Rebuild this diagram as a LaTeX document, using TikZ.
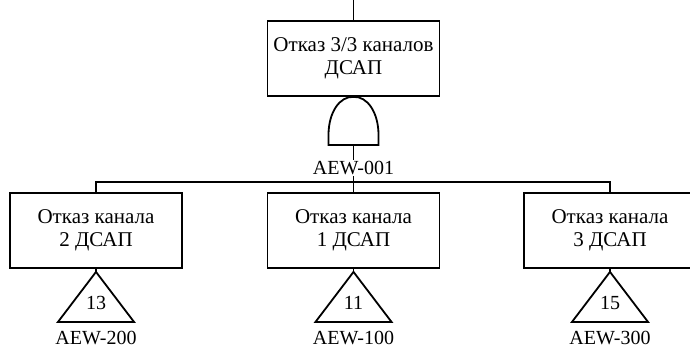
\documentclass[tikz,border=0pt]{standalone}
\usepackage{fontspec}
\setmainfont{Liberation Serif}
\usetikzlibrary{positioning}
\tikzset{
  event/.style={draw,line width=1.8pt,minimum width=172pt,minimum height=75pt,
    align=center,inner sep=0pt,font=\fontsize{21}{23}\selectfont},
  lbl/.style={fill=white,inner sep=1pt,font=\fontsize{20}{22}\selectfont},
  wire/.style={line width=1.8pt}
}
\begin{document}
\begin{tikzpicture}[x=1pt,y=1pt]
\useasboundingbox (0,0) rectangle (690,-349);

% top event
\coordinate (in) at (353.5,0);
\node[event] (top) at (353.5,-58.5) {Отказ 3/3 каналов\\ДСАП};
\draw[wire] (in)--(top);

% AND gate
\draw[wire] (328.5,-145)--(328.5,-135) .. controls (328.5,-112) and (340,-96) .. (top.south)
  .. controls (367,-96) and (378.5,-112) .. (378.5,-135)--(378.5,-145)--cycle;
\coordinate (gout) at (353.5,-145);
\coordinate (bus) at (353.5,-182);

% channels
\node[event] (c2) at (96,-230.5) {Отказ канала\\2 ДСАП};
\node[event] (c1) at (353.5,-230.5) {Отказ канала\\1 ДСАП};
\node[event] (c3) at (610,-230.5) {Отказ канала\\3 ДСАП};

\draw[wire] (gout)--(c1.north);
\draw[wire] (c2.north) |- (bus) -| (c3.north);
\node[lbl] (g0) at (353.5,-168) {AEW-001};

% transfer triangles
\foreach \n/\k/\c in {c2/13/200,c1/11/100,c3/15/300}{
  \draw[wire] (\n.south)--++(0,-3) coordinate (t\n);
  \draw[wire] (t\n)--++(-38,-50)--++(76,0)--cycle;
  \node[font=\fontsize{20}{22}\selectfont] (k\n) at ([yshift=-34pt]\n.south) {\k};
  \node[lbl,fill=none] (l\n) at ([yshift=-69pt]\n.south) {AEW-\c};
}
\end{tikzpicture}
\end{document}
